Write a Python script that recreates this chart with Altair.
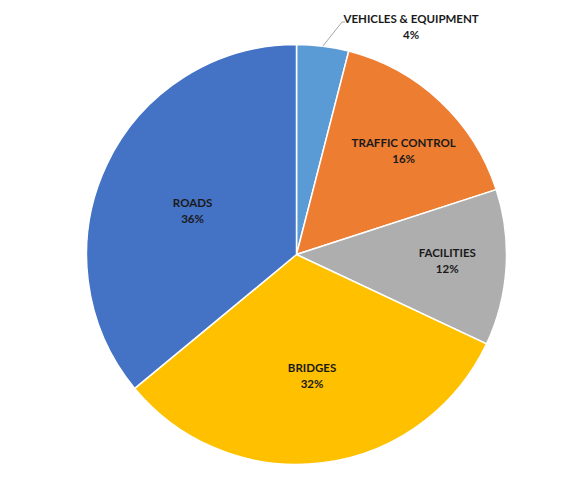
import altair as alt
import pandas as pd

categories = ["VEHICLES & EQUIPMENT", "TRAFFIC CONTROL", "FACILITIES", "BRIDGES", "ROADS"]
values = [4, 16, 12, 32, 36]
colors = ["#5b9bd5", "#ed7d31", "#aeaeae", "#ffc000", "#4472c4"]

df = pd.DataFrame({
    "category": categories,
    "value": values,
    "idx": list(range(len(categories))),
})

CX, CY, R = 288.5, 246.5, 210
FONT = "Lato"

base = alt.Chart(df).transform_calculate(
    label="datum.category + '\\n' + datum.value + '%'"
).encode(
    theta=alt.Theta("value:Q", stack=True),
    order=alt.Order("idx:Q", sort="ascending"),
    x=alt.value(CX),
    y=alt.value(CY),
)

arcs = base.mark_arc(outerRadius=R, stroke="white", strokeWidth=1.5).encode(
    color=alt.Color("category:N", scale=alt.Scale(domain=categories, range=colors), legend=None)
)

text_kw = dict(font=FONT, fontSize=11.5, fontWeight="bold", color="#1a1a1a",
               lineBreak="\n", lineHeight=16, align="center", baseline="middle")

big = base.mark_text(radius=116, dx=1, dy=-1, **text_kw).encode(
    text="label:N",
    opacity=alt.condition("datum.value >= 30", alt.value(1), alt.value(0)),
)
mid = base.mark_text(radius=139, dx=12, dy=-9.5, **text_kw).encode(
    text="label:N",
    opacity=alt.condition("datum.value >= 10 && datum.value < 30", alt.value(1), alt.value(0)),
)
outer = base.mark_text(radius=236, dx=85, dy=0, **text_kw).encode(
    text="label:N",
    opacity=alt.condition("datum.value < 10", alt.value(1), alt.value(0)),
)

leader = alt.Chart(df).transform_window(
    cum="sum(value)", sort=[alt.SortField("idx")], frame=[None, 0]
).transform_joinaggregate(
    total="sum(value)"
).transform_calculate(
    a="2*PI*(datum.cum - datum.value/2)/datum.total",
).transform_calculate(
    lx=f"{CX} + {R}*sin(datum.a)",
    ly=f"{CY} - {R}*cos(datum.a)",
).transform_filter("datum.value < 10").mark_rule(color="#a6a6a6", strokeWidth=1).encode(
    x=alt.X("lx:Q", scale=None),
    y=alt.Y("ly:Q", scale=None),
    x2=alt.value(334),
    y2=alt.value(14),
)
elbow = alt.Chart(df).transform_filter("datum.value < 10").mark_rule(
    color="#a6a6a6", strokeWidth=1
).encode(x=alt.value(334), x2=alt.value(337), y=alt.value(14))

chart = alt.layer(arcs, leader, elbow, big, mid, outer).properties(
    width=560, height=467, padding=0, autosize=alt.AutoSizeParams(type="none"),
    background="white",
).configure_view(stroke=None)

chart.save("out.html", embed_options={"renderer": "svg", "actions": False})
